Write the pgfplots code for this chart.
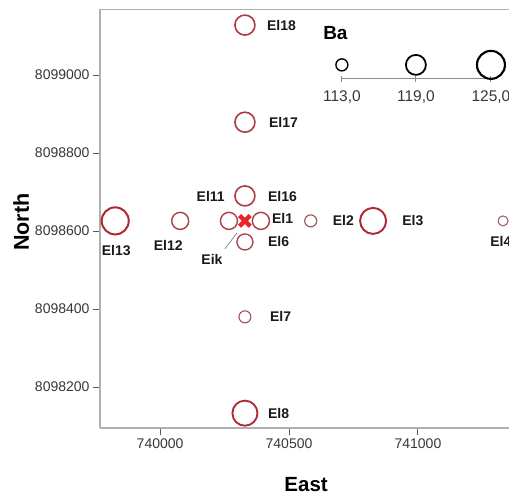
\documentclass[border=0pt]{standalone}
\usepackage{pgfplots}
\pgfplotsset{compat=1.18}
\usepackage{pgfplotstable}
\usepackage{fontspec}
\setmainfont{Liberation Sans}
\definecolor{xred}{RGB}{235,35,45}
\definecolor{axgray}{RGB}{175,175,175}
\definecolor{tickgray}{RGB}{90,90,90}
\definecolor{txtgray}{RGB}{55,55,55}

\pgfplotstableread{
x y ba
739826 8098626 124.3
740078 8098626 116.8
740267 8098626 116.8
740391 8098626 116.8
740584 8098626 113.0
740826 8098626 123.5
741330 8098626 111.5
740329 8098690 119.0
740329 8098879 119.0
740329 8099128 119.0
740329 8098572 116.0
740329 8098380 113.0
740329 8098133 122.8
}\samples

\pgfplotstableread{
x y ba
740705 8099026 113
740992 8099026 119
741283 8099026 125
}\legendpts

\begin{document}
\begin{tikzpicture}
\begin{axis}[
  at={(100pt,69pt)}, anchor=south west,
  scale only axis, width=409pt, height=418.5pt,
  xmin=739767, xmax=741353, ymin=8098095, ymax=8099168,
  axis lines=left,
  axis line style={-, draw=axgray, line width=1.3pt},
  tick align=outside,
  major tick length=7pt,
  tick style={tickgray, line width=1pt},
  xtick={740000,740500,741000},
  ytick={8098200,8098400,8098600,8098800,8099000},
  scaled ticks=false,
  /pgf/number format/assume math mode=true,
  xticklabel style={/pgf/number format/.cd, fixed, 1000 sep={}},
  yticklabel style={/pgf/number format/.cd, fixed, 1000 sep={}},
  ticklabel style={font=\fontsize{14}{16}\selectfont, text=txtgray},
  xlabel={East}, ylabel={North},
  xlabel style={at={(rel axis cs:0.504,-0.134)}, anchor=center, font=\fontsize{20.5}{22}\selectfont\bfseries},
  ylabel style={at={(rel axis cs:-0.193,0.492)}, anchor=center, rotate=0, font=\fontsize{21.5}{23}\selectfont\bfseries},
  colormap={ba}{rgb255(111)=(195,120,130) rgb255(118)=(215,75,85) rgb255(125)=(220,45,60)},
  point meta min=111, point meta max=125,
  clip=false,
]
\draw[axgray, line width=1.3pt] (rel axis cs:0,1) -- (rel axis cs:1,1);

\addplot[scatter, only marks, mark=o,
  point meta=explicit,
  visualization depends on={\thisrow{ba} \as \ba},
  scatter/@pre marker code/.append style={/tikz/mark size={6+(\ba-113)*2/3}},
  scatter/@pre marker code/.append code={\pgfsetlinewidth{(1.0+(\ba-111)*0.075)*1pt}}
] table[x=x, y=y, meta=ba] {\samples};

\addplot[only marks, mark=x, xred, mark size=7.5pt, line width=4.5pt] coordinates {(740329,8098626)};

\addplot[scatter, only marks, mark=o, scatter src=explicit,
  scatter/use mapped color={draw=black},
  visualization depends on={\thisrow{ba} \as \ba},
  scatter/@pre marker code/.append style={/tikz/mark size={6+(\ba-113)*2/3}},
  scatter/@pre marker code/.append code={\pgfsetlinewidth{(1.4+(\ba-113)*0.06)*1pt}}
] table[x=x, y=y, meta=ba] {\legendpts};

% size legend scale
\draw[black!45, line width=1pt] (axis cs:740705,8098990) -- (axis cs:741283,8098990);
\draw[black!45, line width=1pt] ([yshift=3pt]axis cs:740705,8098990) -- ([yshift=-3pt]axis cs:740705,8098990);
\draw[black!45, line width=1pt] ([yshift=3pt]axis cs:740992,8098990) -- ([yshift=-3pt]axis cs:740992,8098990);
\draw[black!45, line width=1pt] ([yshift=3pt]axis cs:741283,8098990) -- ([yshift=-3pt]axis cs:741283,8098990);
\node[anchor=west, font=\fontsize{19}{21}\selectfont\bfseries, inner sep=0] at (axis cs:740632,8099108) {Ba};
\node[font=\fontsize{15.5}{17}\selectfont, text=txtgray] at (axis cs:740705,8098944) {113,0};
\node[font=\fontsize{15.5}{17}\selectfont, text=txtgray] at (axis cs:740992,8098944) {119,0};
\node[font=\fontsize{15.5}{17}\selectfont, text=txtgray] at (axis cs:741283,8098944) {125,0};

% point labels
\tikzset{lbl/.style={font=\fontsize{14}{16}\selectfont\bfseries, inner sep=0, text=black!90}}
\node[lbl, anchor=west, xshift=22pt] at (axis cs:740329,8099128) {El18};
\node[lbl, anchor=west, xshift=24pt] at (axis cs:740329,8098879) {El17};
\node[lbl, anchor=west, xshift=23pt, yshift=-1pt] at (axis cs:740329,8098690) {El16};
\node[lbl, anchor=east, xshift=-20pt, yshift=-1pt] at (axis cs:740329,8098690) {El11};
\node[lbl, anchor=west, xshift=11pt, yshift=2pt] at (axis cs:740391,8098626) {El1};
\node[lbl, anchor=west, xshift=22pt] at (axis cs:740584,8098626) {El2};
\node[lbl, anchor=west, xshift=29pt] at (axis cs:740826,8098626) {El3};
\node[lbl, anchor=west, xshift=-13pt, yshift=-21pt] at (axis cs:741330,8098626) {El4};
\node[lbl, anchor=west, xshift=23pt] at (axis cs:740329,8098572) {El6};
\node[lbl, xshift=1pt, yshift=-30pt] at (axis cs:739826,8098626) {El13};
\node[lbl, xshift=-12pt, yshift=-25pt] at (axis cs:740078,8098626) {El12};
\node[lbl, xshift=-33pt, yshift=-39pt] at (axis cs:740329,8098626) {Eik};
\draw[black!55, line width=0.6pt] ([xshift=-20pt,yshift=-28pt]axis cs:740329,8098626) -- ([xshift=-8pt,yshift=-12pt]axis cs:740329,8098626);
\node[lbl, anchor=west, xshift=25pt] at (axis cs:740329,8098380) {El7};
\node[lbl, anchor=west, xshift=23pt] at (axis cs:740329,8098133) {El8};
\end{axis}
\pgfresetboundingbox
\useasboundingbox (0,0) rectangle (509pt,497pt);
\end{tikzpicture}
\end{document}
